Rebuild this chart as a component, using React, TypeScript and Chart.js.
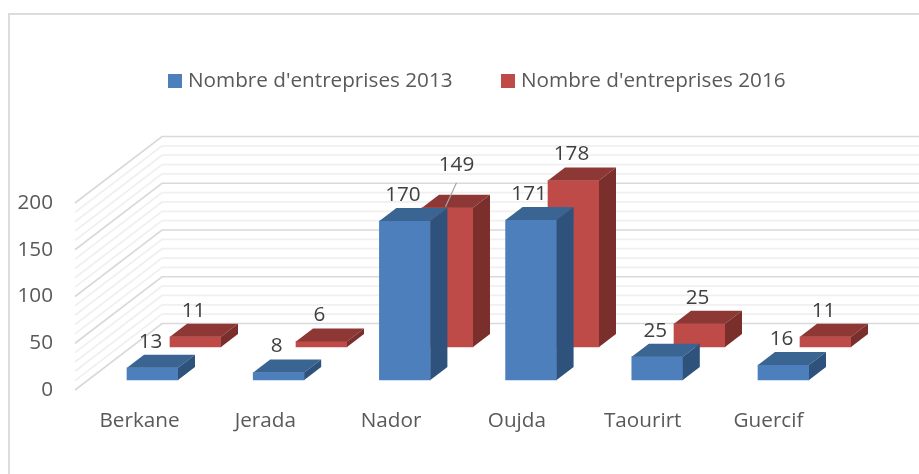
import React, { useEffect, useRef } from "react";
import { Chart, registerables } from "chart.js";

Chart.register(...registerables);

const categories = ["Berkane", "Jerada", "Nador", "Oujda", "Taourirt", "Guercif"];
const values2013 = [13, 8, 170, 171, 25, 16];
const values2016 = [11, 6, 149, 178, 25, 11];
const label2013 = "Nombre d'entreprises 2013";
const label2016 = "Nombre d'entreprises 2016";
const yTicks = [0, 50, 100, 150, 200];
const gridStep = 10;

const FONT = '"Open Sans", sans-serif';
const FONT_SIZE = 20.7;
const W = 919, H = 474;
const LEFT = 75, RIGHT = 919, TOP = 130, BOTTOM = 390;
const UNIT = 0.935; // px per value
const xRange = (first: number, slot: number) => ({ min: (LEFT - first) / slot, max: (RIGHT - first) / slot });
const yRange = (zero: number) => ({ min: -(BOTTOM - zero) / UNIT, max: (zero - TOP) / UNIT });
const WALL = { dx: 87, dy: -66.5 };
const DEPTH = { dx: 17, dy: -13 };
const faces: Record<string, { top: string; side: string }> = {
  blue: { top: "#3A6491", side: "#2F527C" },
  red: { top: "#8D3835", side: "#7A2F2D" },
};

const scene = {
  id: "scene",
  beforeDraw(chart: any) {
    const { ctx } = chart;
    const s = chart.scales.yTick;
    ctx.save();
    ctx.fillStyle = "#fff";
    ctx.fillRect(0, 0, W, H);
    ctx.strokeStyle = "#dcdcdc";
    ctx.lineWidth = 2;
    ctx.beginPath();
    ctx.moveTo(9, H);
    ctx.lineTo(9, 14);
    ctx.lineTo(W, 14);
    ctx.stroke();
    const steps = yTicks[yTicks.length - 1] / gridStep;
    const draw = (major: boolean) => {
      for (let i = 0; i <= steps; i++) {
        const v = i * gridStep;
        if (yTicks.includes(v) !== major) continue;
        const y = s.getPixelForValue(v);
        ctx.strokeStyle = major ? "#d9d9d9" : "#f0f0f0";
        ctx.lineWidth = major ? 1.6 : 1.8;
        ctx.beginPath();
        ctx.moveTo(LEFT, y);
        ctx.lineTo(LEFT + WALL.dx, y + WALL.dy);
        ctx.lineTo(RIGHT, y + WALL.dy);
        ctx.stroke();
      }
    };
    draw(false);
    draw(true);
    ctx.restore();
  },
  afterDatasetDraw(chart: any, args: any) {
    const { ctx } = chart;
    const f = faces[chart.data.datasets[args.index].faceKey];
    ctx.save();
    args.meta.data.forEach((b: any) => {
      const l = b.x - b.width / 2, r = b.x + b.width / 2;
      ctx.fillStyle = f.top;
      ctx.beginPath();
      ctx.moveTo(l, b.y);
      ctx.lineTo(l + DEPTH.dx, b.y + DEPTH.dy);
      ctx.lineTo(r + DEPTH.dx, b.y + DEPTH.dy);
      ctx.lineTo(r, b.y);
      ctx.closePath();
      ctx.fill();
      ctx.fillStyle = f.side;
      ctx.beginPath();
      ctx.moveTo(r, b.y);
      ctx.lineTo(r + DEPTH.dx, b.y + DEPTH.dy);
      ctx.lineTo(r + DEPTH.dx, b.base + DEPTH.dy);
      ctx.lineTo(r, b.base);
      ctx.closePath();
      ctx.fill();
    });
    ctx.restore();
  },
  afterDatasetsDraw(chart: any) {
    const { ctx } = chart;
    ctx.save();
    ctx.font = `${FONT_SIZE}px ${FONT}`;
    ctx.textAlign = "center";
    ctx.textBaseline = "middle";
    chart.data.datasets.forEach((ds: any, di: number) => {
      chart.getDatasetMeta(di).data.forEach((b: any, i: number) => {
        const backTop = b.y + DEPTH.dy;
        const lead = ds.leaderIndex === i;
        const x = b.x - 2 + (lead ? 11 : 0);
        const y = backTop - 13 - (lead ? 17 : 0);
        if (lead) {
          ctx.strokeStyle = "#a6a6a6";
          ctx.lineWidth = 1.2;
          ctx.beginPath();
          ctx.moveTo(x, y + 18);
          ctx.lineTo(x - 11, y + 42);
          ctx.stroke();
        }
        ctx.fillStyle = "#404040";
        ctx.fillText(String(ds.data[i].y), x, y);
      });
    });
    ctx.restore();
  },
  afterDraw(chart: any) {
    const { ctx } = chart;
    const starts = [168, 501];
    ctx.save();
    ctx.font = `${FONT_SIZE}px ${FONT}`;
    ctx.textAlign = "left";
    ctx.textBaseline = "middle";
    chart.data.datasets.forEach((ds: any, i: number) => {
      ctx.fillStyle = ds.backgroundColor;
      ctx.fillRect(starts[i], 74, 14, 14);
      ctx.fillStyle = "#595959";
      ctx.fillText(ds.label, starts[i] + 20, 81);
    });
    ctx.restore();
  },
};

export default function App() {
  const ref = useRef<HTMLCanvasElement>(null);
  useEffect(() => {
    const tickFont = { family: FONT, size: FONT_SIZE };
    const chart = new Chart(ref.current!, {
      type: "bar",
      data: {
        datasets: [
          {
            label: label2013,
            faceKey: "blue",
            data: values2013.map((y, x) => ({ x, y })),
            backgroundColor: "#4C7FBC",
            barThickness: 51,
            grouped: false,
            xAxisID: "xBlue",
            yAxisID: "yBlue",
            clip: false,
          },
          {
            label: label2016,
            faceKey: "red",
            leaderIndex: 2,
            data: values2016.map((y, x) => ({ x, y })),
            backgroundColor: "#BE4B48",
            barThickness: 51,
            grouped: false,
            xAxisID: "xRed",
            yAxisID: "yRed",
            clip: false,
          },
        ] as any,
      },
      options: {
        animation: false,
        responsive: false,
        layout: { padding: { top: TOP, left: 0, right: 0, bottom: 0 } },
        plugins: { legend: { display: false }, tooltip: { enabled: false } },
        scales: {
          xTick: {
            type: "linear",
            axis: "x",
            position: "bottom",
            offset: false,
            ...xRange(139.5, 125.8),
            grid: { display: false, drawTicks: false },
            border: { display: false },
            afterBuildTicks: (a: any) => { a.ticks = categories.map((_, value) => ({ value })); },
            afterFit: (a: any) => { a.height = H - BOTTOM; },
            ticks: {
              padding: 19,
              autoSkip: false,
              maxRotation: 0,
              color: "#595959",
              font: tickFont,
              callback: (v: any) => categories[v],
            },
          },
          xBlue: { type: "linear", axis: "x", display: false, offset: false, ...xRange(152.5, 126.2) },
          xRed: { type: "linear", axis: "x", display: false, offset: false, ...xRange(195.5, 126.0) },
          yTick: {
            type: "linear",
            axis: "y",
            position: "left",
            ...yRange(BOTTOM),
            grid: { display: false, drawTicks: false },
            border: { display: false },
            afterBuildTicks: (a: any) => { a.ticks = yTicks.map((value) => ({ value })); },
            afterFit: (a: any) => { a.width = LEFT; },
            ticks: { padding: 22, color: "#595959", font: tickFont },
          },
          yBlue: { type: "linear", axis: "y", display: false, ...yRange(380) },
          yRed: { type: "linear", axis: "y", display: false, ...yRange(347) },
        },
      } as any,
      plugins: [scene],
    });
    return () => chart.destroy();
  }, []);
  return (
    <div style={{ position: "fixed", left: 0, top: 0, width: W, height: H }}>
      <canvas ref={ref} width={W} height={H} style={{ display: "block" }} />
    </div>
  );
}
